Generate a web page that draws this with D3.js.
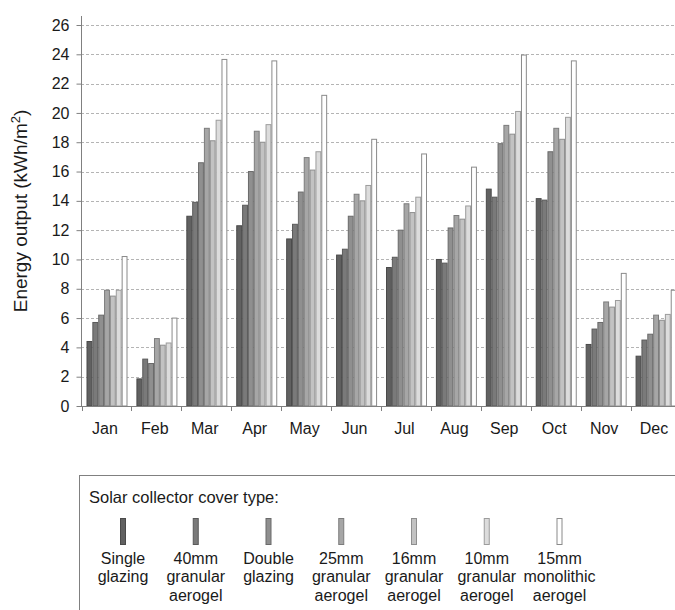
<!DOCTYPE html>
<html>
<head>
<meta charset="utf-8">
<script src="https://cdn.jsdelivr.net/npm/d3@7"></script>
<style>
  html, body { margin: 0; padding: 0; background: #fff; }
  svg { display: block; font-family: "Liberation Sans", Arial, sans-serif; }
</style>
</head>
<body>
<svg id="chart" width="675" height="610"></svg>
<script>
const months = ["Jan","Feb","Mar","Apr","May","Jun","Jul","Aug","Sep","Oct","Nov","Dec"];
const seriesNames = ["Single glazing","40mm granular aerogel","Double glazing","25mm granular aerogel","16mm granular aerogel","10mm granular aerogel","15mm monolithic aerogel"];
const legendLines = [["Single","glazing"],["40mm","granular","aerogel"],["Double","glazing"],["25mm","granular","aerogel"],["16mm","granular","aerogel"],["10mm","granular","aerogel"],["15mm","monolithic","aerogel"]];
const singleGlazing   = [4.4, 1.85, 12.95, 12.3, 11.4, 10.3, 9.45, 10.0, 14.8, 14.15, 4.2, 3.4];
const granular40      = [5.7, 3.2, 13.9, 13.7, 12.4, 10.7, 10.15, 9.75, 14.25, 14.05, 5.25, 4.5];
const doubleGlazing   = [6.2, 2.9, 16.6, 16.0, 14.6, 12.95, 12.0, 12.15, 17.9, 17.35, 5.7, 4.9];
const granular25      = [7.9, 4.6, 18.95, 18.75, 16.95, 14.45, 13.8, 13.0, 19.15, 18.95, 7.1, 6.2];
const granular16      = [7.5, 4.15, 18.1, 18.0, 16.1, 14.0, 13.2, 12.75, 18.55, 18.2, 6.75, 5.85];
const granular10      = [7.9, 4.3, 19.5, 19.2, 17.35, 15.05, 14.25, 13.65, 20.1, 19.7, 7.2, 6.25];
const monolithic15    = [10.2, 6.0, 23.65, 23.55, 21.2, 18.2, 17.2, 16.3, 23.95, 23.55, 9.05, 7.9];
const seriesValues = [singleGlazing, granular40, doubleGlazing, granular25, granular16, granular10, monolithic15];
const yTicks = [0,2,4,6,8,10,12,14,16,18,20,22,24,26];
const fills = ["#616161","#7a7a7a","#8f8f8f","#a6a6a6","#c2c2c2","#dcdcdc","#ffffff"];
const strokes = ["#4a4a4a","#5a5a5a","#6a6a6a","#7c7c7c","#8e8e8e","#9c9c9c","#8a8a8a"];

const svg = d3.select("#chart");
const x0 = d3.scaleBand().domain(months).range([81.5, 680.5]).padding(0);
const x1 = d3.scaleBand().domain(d3.range(seriesNames.length)).range([5, 46]).padding(0);
const y = d3.scaleLinear().domain([0, 26]).range([406, 25]);

// gridlines
svg.append("g").selectAll("line").data(yTicks.filter(d => d > 0)).join("line")
  .attr("x1", 81).attr("x2", 675)
  .attr("y1", d => Math.round(y(d)) + 0.5).attr("y2", d => Math.round(y(d)) + 0.5)
  .attr("stroke", "#b4b4b4").attr("stroke-dasharray", "3,2").attr("stroke-width", 1);

// bars
const groups = svg.append("g").selectAll("g").data(months).join("g")
  .attr("transform", d => `translate(${x0(d)},0)`);
groups.selectAll("rect").data((m, i) => seriesValues.map((s, k) => ({k, v: s[i]}))).join("rect")
  .attr("x", d => x1(d.k) + 0.5)
  .attr("width", x1.bandwidth() - 1)
  .attr("y", d => y(d.v))
  .attr("height", d => y(0) - y(d.v))
  .attr("fill", d => fills[d.k])
  .attr("stroke", d => strokes[d.k])
  .attr("stroke-width", 1);

// y axis
const yAxis = d3.axisLeft(y).tickValues(yTicks).tickSize(5).tickPadding(7).tickFormat(d3.format("d"));
const gy = svg.append("g").attr("transform", "translate(81.5,0)").call(yAxis);
gy.select(".domain").remove();
gy.selectAll(".tick line").attr("stroke", "#808080");
gy.selectAll("text").attr("font-size", 16).attr("fill", "#1a1a1a")
  .attr("font-family", "'Liberation Sans', Arial, sans-serif");
svg.append("line").attr("x1", 81.5).attr("x2", 81.5).attr("y1", 16).attr("y2", 406)
  .attr("stroke", "#808080");

// x axis
svg.append("line").attr("x1", 81).attr("x2", 675).attr("y1", 406.5).attr("y2", 406.5)
  .attr("stroke", "#808080");
svg.append("g").selectAll("line").data(months).join("line")
  .attr("x1", d => Math.round(x0(d)) + 0.5).attr("x2", d => Math.round(x0(d)) + 0.5)
  .attr("y1", 406).attr("y2", 411).attr("stroke", "#808080");
svg.append("g").selectAll("text").data(months).join("text")
  .attr("x", d => x0(d) + x0.bandwidth() / 2 - 1.5)
  .attr("y", 434)
  .attr("text-anchor", "middle")
  .attr("font-size", 16).attr("fill", "#1a1a1a")
  .text(d => d);

// y title
svg.append("text")
  .attr("transform", "translate(27,211) rotate(-90)")
  .attr("text-anchor", "middle")
  .attr("font-size", 19).attr("fill", "#1a1a1a")
  .html('Energy output (kWh/m<tspan baseline-shift="super" font-size="13">2</tspan>)');

// legend
svg.append("rect").attr("x", 79.5).attr("y", 475.5).attr("width", 620).attr("height", 200)
  .attr("fill", "none").attr("stroke", "#808080");
svg.append("text").attr("x", 89).attr("y", 503).attr("font-size", 16.5).attr("fill", "#1a1a1a")
  .text("Solar collector cover type:");
const lx = d3.scalePoint().domain(d3.range(seriesNames.length)).range([123, 559.5]);
const li = svg.append("g").selectAll("g").data(seriesNames).join("g")
  .attr("transform", (d, i) => `translate(${lx(i)},0)`);
li.append("rect").attr("x", -2.5).attr("y", 518.5).attr("width", 5).attr("height", 26)
  .attr("fill", (d, i) => fills[i]).attr("stroke", (d, i) => strokes[i]);
li.append("text").attr("text-anchor", "middle").attr("font-size", 16).attr("fill", "#1a1a1a")
  .selectAll("tspan").data((d, i) => legendLines[i]).join("tspan")
  .attr("x", 0).attr("y", (d, j) => 564 + j * 18.4).text(d => d);
</script>
</body>
</html>
